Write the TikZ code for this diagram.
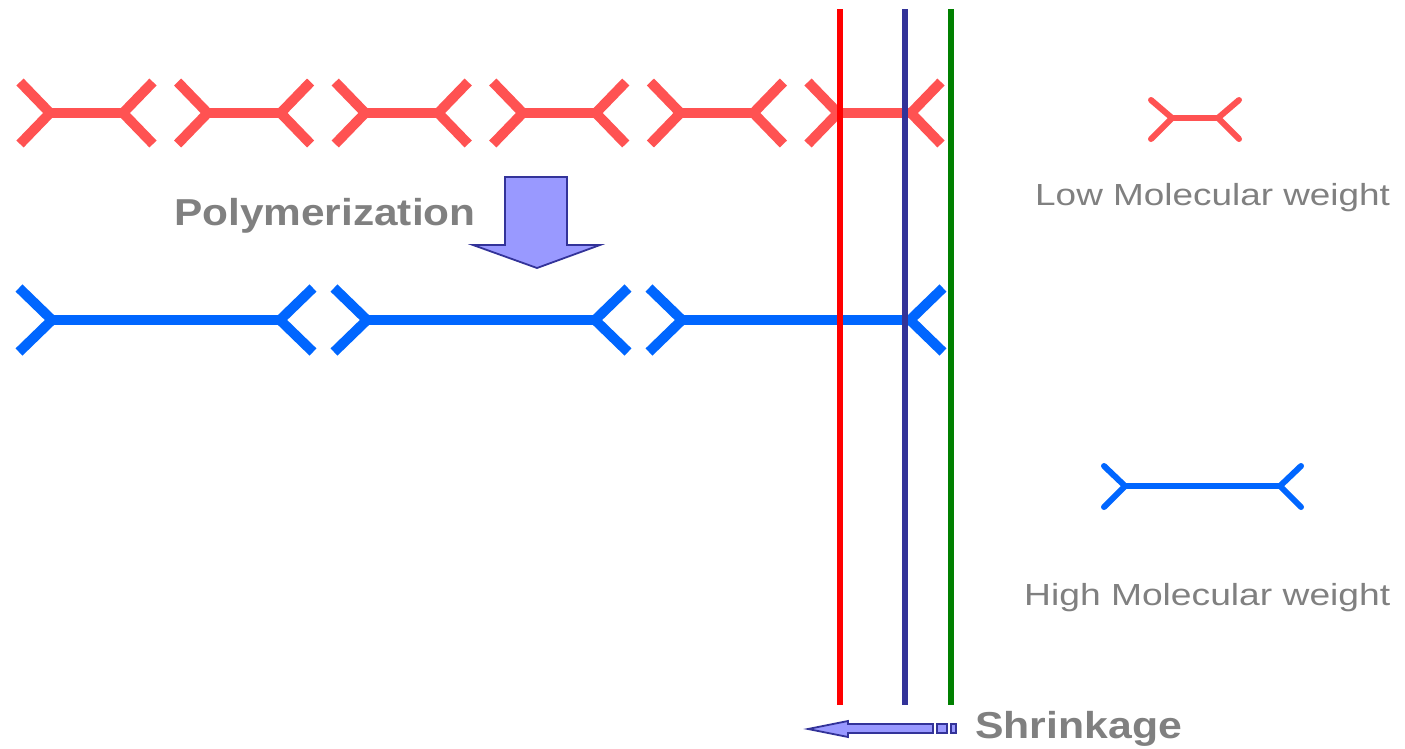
\documentclass[tikz,border=0pt]{standalone}
\usepackage{fontspec}
\setmainfont{Liberation Sans}
\usepackage{graphicx}
\definecolor{monored}{RGB}{255,82,82}
\definecolor{polyblue}{RGB}{0,102,255}
\definecolor{txtgray}{RGB}{128,128,128}
\definecolor{darkblue}{RGB}{51,51,153}
\definecolor{lightblue}{RGB}{153,153,255}
\definecolor{lgreen}{RGB}{0,128,0}
\tikzset{
  monomer/.style={draw=monored, line width=10pt, line cap=butt, line join=miter},
  polymer/.style={draw=polyblue, line width=10pt, line cap=butt, line join=miter},
  legred/.style={draw=monored, line width=6pt, line cap=round, line join=round},
  legblue/.style={draw=polyblue, line width=6pt, line cap=round, line join=round},
  front/.style={line width=6pt},
  blockarrow/.style={draw=darkblue, fill=lightblue, line width=1.8pt, line join=miter},
  boldlabel/.style={text=txtgray, font=\fontsize{37.5}{40}\selectfont\bfseries, inner sep=0pt, anchor=base west},
  leglabel/.style={text=txtgray, font=\fontsize{30.5}{34}\selectfont, inner sep=0pt, anchor=base west}
}
\begin{document}
\begin{tikzpicture}[x=1pt,y=-1pt]
\useasboundingbox (0,0) rectangle (1405,748);
% monomers (low molecular weight)
\foreach \i in {0,...,5}{
  \pgfmathsetmacro{\xl}{50+157.6*\i}
  \pgfmathsetmacro{\xr}{\xl+73}
  \draw[monomer] (\xl-30,82) -- (\xl,113) -- (\xl-30,144);
  \draw[monomer] (\xr+30,82) -- (\xr,113) -- (\xr+30,144);
  \draw[monomer] (\xl,113) -- (\xr,113);
}
% polymers (high molecular weight)
\foreach \j in {0,1,2}{
  \pgfmathsetmacro{\xl}{52+315*\j}
  \pgfmathsetmacro{\xr}{280+315*\j}
  \draw[polymer] (\xl-33,288) -- (\xl,320) -- (\xl-33,352);
  \draw[polymer] (\xr+33,288) -- (\xr,320) -- (\xr+33,352);
  \draw[polymer] (\xl,320) -- (\xr,320);
}
% front lines
\coordinate (redtop) at (840,9);   \coordinate (redbot) at (840,705);
\coordinate (bluetop) at (905,9);  \coordinate (bluebot) at (905,705);
\coordinate (grntop) at (951,9);   \coordinate (grnbot) at (951,705);
\draw[front, red] (redtop) -- (redbot);
\draw[front, darkblue] (bluetop) -- (bluebot);
\draw[front, lgreen] (grntop) -- (grnbot);
% legend symbols
\draw[legred] (1151,100) -- (1172,118) -- (1151,139);
\draw[legred] (1239,100) -- (1218,118) -- (1239,139);
\draw[legred] (1172,118) -- (1218,118);
\draw[legblue] (1104,466) -- (1125,486) -- (1104,507);
\draw[legblue] (1301,466) -- (1280,486) -- (1301,507);
\draw[legblue] (1125,486) -- (1280,486);
% polymerization arrow
\draw[blockarrow] (505,177) -- (567,177) -- (567,245) -- (600,245) -- (537,268) -- (473,245) -- (505,245) -- cycle;
% shrinkage arrow
\draw[blockarrow] (808,729) -- (848,721) -- (848,724) -- (933,724) -- (933,733) -- (848,733) -- (848,737) -- cycle;
\draw[blockarrow] (937,724) rectangle (947,733);
\draw[blockarrow] (951,724) rectangle (956,733);
% labels
\node[boldlabel] (poly) at (174,225) {\scalebox{1.13}[1]{Polymerization}};
\node[boldlabel] (shrink) at (975,738) {\scalebox{1.14}[1]{Shrinkage}};
\node[leglabel] (low) at (1035,205) {\scalebox{1.21}[1]{Low Molecular weight}};
\node[leglabel] (high) at (1024,605) {\scalebox{1.22}[1]{High Molecular weight}};
\end{tikzpicture}
\end{document}
